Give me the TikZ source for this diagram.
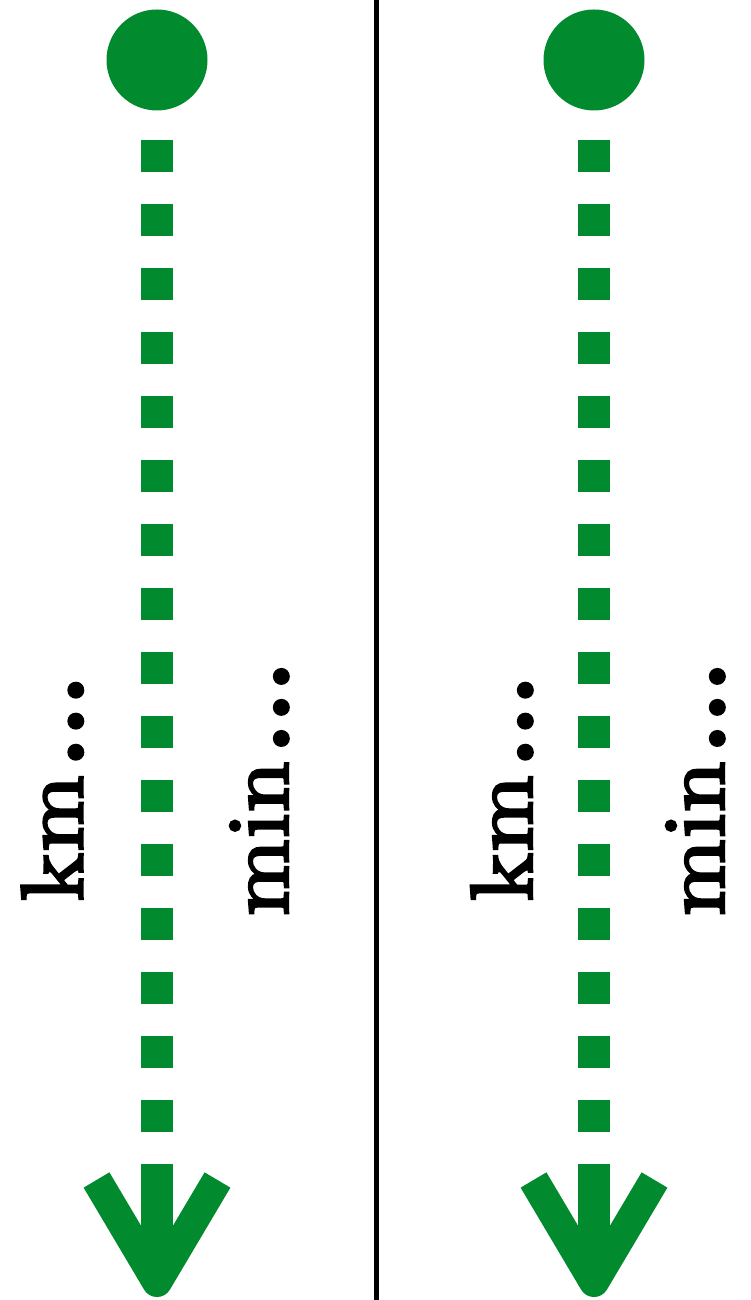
\documentclass[tikz,border=0pt]{standalone}
\usepackage{fontspec}
\usepackage{tikz}
\usetikzlibrary{arrows.meta,positioning}
\newfontfamily\unitfont{lmroman8-regular}[Extension=.otf,FakeBold=3]
\newcommand{\trail}{{\fontsize{120pt}{96pt}\selectfont\kern4.7pt.\kern-4.4pt.\kern-4.4pt.}}
\definecolor{routegreen}{HTML}{028A2E}
\tikzset{
  stopdot/.style={
    circle,
    fill=routegreen,
    minimum size=101pt,
    inner sep=0pt
  },
  routeline/.style={
    draw=routegreen,
    line width=32pt,
    dash pattern=on 32pt off 32pt,
    shorten <=29.5pt,
    -{Rectangle[length=121pt,width=32pt,sep=-105pt]Straight Barb[length=102pt,width=121pt,line width=30pt,line join=round]}
  },
  unittext/.style={
    rotate=90,
    anchor=base,
    inner sep=0pt,
    font=\unitfont\fontsize{88pt}{96pt}\selectfont
  },
  divider/.style={draw=black, line width=5pt}
}

\begin{document}
\begin{tikzpicture}[x=1pt,y=1pt]
\useasboundingbox (0,0) rectangle (750,1300);

\coordinate (divtop) at (376,1300);
\coordinate (divbot) at (376,0);
\draw[divider] (divtop) -- (divbot);

\node[stopdot] (dotA) at (157,1240) {};
\node[stopdot] (dotB) at (594,1240) {};
\coordinate[below=1237pt of dotA.center] (endA);
\coordinate[below=1237pt of dotB.center] (endB);

\node[unittext] (kmA) at (82.5,512.8) {km\trail};
\node[unittext] (minA) at (288,512.3) {min\trail};
\node[unittext] (kmB) at (532,512.8) {km\trail};
\node[unittext] (minB) at (724,512.3) {min\trail};

\draw[routeline] (dotA) -- (endA);
\draw[routeline] (dotB) -- (endB);

\end{tikzpicture}
\end{document}
